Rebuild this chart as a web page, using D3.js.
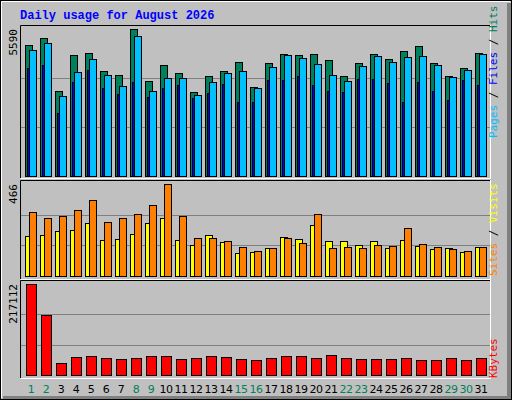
<!DOCTYPE html>
<html><head><meta charset="utf-8">
<script src="https://cdn.jsdelivr.net/npm/d3@7"></script>
<style>body{margin:0;background:#fff}svg{display:block}</style>
</head><body>
<script>
const days = d3.range(1,32);
const weekend = [1,2,8,9,15,16,22,23,29,30];
const hits = [4982,5248,3232,4601,4677,3993,3841,5590,3613,4221,3917,3194,3803,3993,4335,3384,4297,4639,4601,4639,4411,3803,4297,4639,4449,4753,4944,4297,3803,4107,4677];
const files = [4792,5058,3042,3955,4449,3841,3423,5324,3232,3727,3727,3080,3575,3917,3993,3346,4145,4601,4487,4259,3841,3613,4183,4563,4335,4525,4563,4221,3765,4031,4639];
const pages = [4107,4221,2396,3575,4031,3346,3118,3575,3004,3346,3461,2966,3156,3499,2814,2814,3651,3651,3803,3461,3232,3194,3689,3689,3537,2814,3575,3232,2890,3651,3461];
const visits = [203,208,228,233,268,182,187,213,268,294,182,157,208,172,116,122,142,197,187,258,177,177,157,177,142,182,152,137,142,122,147];
const sites = [324,294,304,334,385,273,294,314,360,466,304,192,192,177,147,127,142,192,167,314,142,147,142,157,152,243,162,147,137,127,147];
const kbytes = [217112,143154,28631,42946,45332,40560,38174,40560,45332,45332,38174,40560,45332,42946,38174,35789,40560,45332,45332,40560,47718,40560,38174,38174,38174,40560,35789,35789,40560,35789,40560];

const svg = d3.select("body").append("svg").attr("width",512).attr("height",400);
svg.append("rect").attr("x",0).attr("y",0).attr("width",512).attr("height",400).attr("fill","#c0c0c0");
// bevel
svg.append("rect").attr("x",0.5).attr("y",0.5).attr("width",511).attr("height",399).attr("fill","none").attr("stroke","#000");
svg.append("path").attr("d","M1.5,398V1.5H510").attr("stroke","#fff").attr("fill","none");
svg.append("rect").attr("x",507).attr("y",3).attr("width",4).attr("height",396).attr("fill","#808080");
svg.append("rect").attr("x",3).attr("y",396).attr("width",508).attr("height",3).attr("fill","#808080");

svg.append("text").attr("x",20).attr("y",19).text("Daily usage for August 2026")
  .attr("font-family","Liberation Mono, DejaVu Sans Mono, monospace").attr("font-weight","bold")
  .attr("font-size",12).attr("fill","#0000ff");

const x = d3.scaleBand().domain(days).range([22,487]).paddingInner(0);
const mono = "DejaVu Sans Mono, monospace";

function panel(y0,y1,base,top,max){
  svg.append("path").attr("d",`M20.5,${y1}V${y0+0.5}H490.5`).attr("stroke","#000").attr("fill","none");
  svg.append("path").attr("d",`M20.5,${y1+0.5}H490.5V${y0}`).attr("stroke","#fff").attr("fill","none");
  const y = d3.scaleLinear().domain([0,max]).range([base,top]);
  [max/3,2*max/3].forEach(v=>svg.append("line").attr("x1",21).attr("x2",490).attr("y1",Math.round(y(v))+0.5).attr("y2",Math.round(y(v))+0.5).attr("stroke","#808080"));
  return y;
}
function bars(vals,y,dx,w,color){
  svg.append("g").selectAll("rect").data(vals).join("rect")
    .attr("x",(d,i)=>x(days[i])+dx+0.5).attr("y",d=>Math.round(y(d))+0.5)
    .attr("width",w).attr("height",d=>Math.max(0,y(0)-Math.round(y(d))))
    .attr("fill",color).attr("stroke","#000");
}
function ylab(txt,yTop,xPos){
  svg.append("text").attr("transform",`translate(${xPos},${yTop}) rotate(-90)`).attr("text-anchor","end")
    .attr("font-family",mono).attr("font-size",11).attr("fill","#000").text(txt);
}
function rlab(parts,yBot){
  const t = svg.append("text").attr("transform",`translate(497,${yBot}) rotate(-90)`)
    .attr("font-family",mono).attr("font-size",11);
  parts.forEach(p=>t.append("tspan").attr("fill",p[1]).text(p[0]));
}

const y1 = panel(25,178,176,29,5590);
bars(hits,y1,3,7,"#00805c");
bars(files,y1,7,7,"#00c0ff");
bars(pages,y1,5,2,"#0000ff");
ylab("5590",29,17);
rlab([["Pages","#00c0ff"],[" / ","#000"],["Files","#0000ff"],[" / ","#000"],["Hits","#00805c"]],138);

const y2 = panel(180,279,276,184,466);
bars(visits,y2,3,7,"#ffff00");
bars(sites,y2,7,7,"#ff8000");
ylab("466",184,17);
rlab([["Sites","#ff8000"],[" / ","#000"],["Visits","#ffff00"]],276);

const y3 = panel(280,378,375,284,217112);
bars(kbytes,y3,4,10,"#ff0000");
ylab("217112",284,17);
rlab([["KBytes","#ff0000"]],378);

svg.append("g").selectAll("text").data(days).join("text")
  .attr("x",d=>x(d)+9).attr("y",393).attr("text-anchor","middle")
  .attr("font-family","DejaVu Sans, sans-serif").attr("font-size",11).attr("letter-spacing",-0.5)
  .attr("fill",d=>weekend.includes(d)?"#00805c":"#000").text(d=>d);
</script>
</body></html>
